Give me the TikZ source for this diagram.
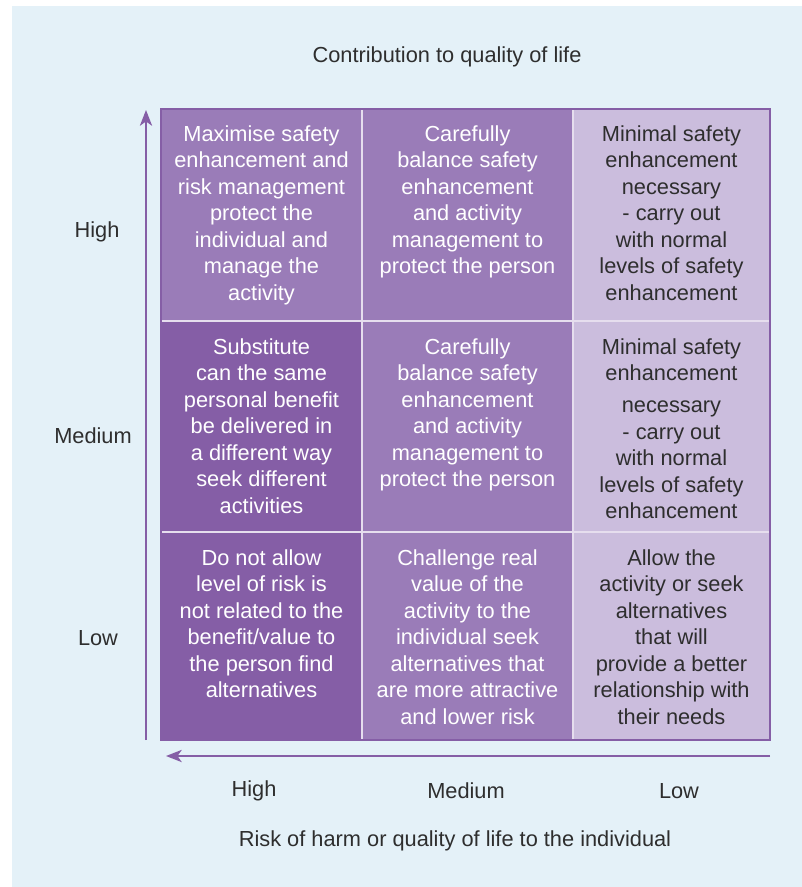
\documentclass[tikz,border=0pt]{standalone}
\usepackage{fontspec}
\setmainfont{Liberation Sans}
\usetikzlibrary{arrows.meta,positioning}
\definecolor{bgblue}{HTML}{E4F1F8}
\definecolor{darkviolet}{HTML}{855EA6}
\definecolor{midviolet}{HTML}{9A7CB8}
\definecolor{paleviolet}{HTML}{CBBDDD}
\definecolor{gridline}{HTML}{E6DEEE}
\definecolor{labelgrey}{HTML}{2E2E2E}

\begin{document}
\begin{tikzpicture}[x=0.02cm,y=-0.02cm,
    celltext/.style={anchor=north, align=center, inner sep=0pt, font=\fontsize{12.4}{15.1}\selectfont},
    onviolet/.style={celltext, text=white},
    onpale/.style={celltext, text=labelgrey},
    axislabel/.style={inner sep=0pt, text=labelgrey, font=\fontsize{12.4}{15.1}\selectfont},
    axis/.style={darkviolet, line width=0.9pt, -{Stealth[length=9pt,width=7pt,inset=2.5pt]}}]
    \useasboundingbox (0,0) rectangle (802,887);
    \fill[bgblue] (12,6) rectangle (802,887);
    % cells
    \fill[darkviolet] (161,321) rectangle (362,740);
    \fill[midviolet] (161,109) rectangle (573,321);
    \fill[midviolet] (362,321) rectangle (573,740);
    \fill[paleviolet] (573,109) rectangle (770,740);
    \foreach \x in {362,573}{
        \draw[gridline, line width=0.9pt] (\x,109) -- (\x,740);
    }
    \foreach \y in {321,532}{
        \draw[gridline, line width=0.9pt] (161,\y) -- (770,\y);
    }
    \draw[darkviolet, line width=0.8pt] (161,109) rectangle (770,740);
    % axes
    \coordinate (vbot) at (146,740);
    \coordinate (vtop) at (146,110);
    \coordinate (hright) at (770,756);
    \coordinate (hleft) at (166,756);
    \draw[axis] (vbot) -- (vtop);
    \draw[axis] (hright) -- (hleft);
    % cell texts, top row
    \node[onviolet] (tl) at (261.5,125) {Maximise safety\\enhancement and\\risk management\\protect the\\individual and\\manage the\\activity};
    \node[onviolet] (tm) at (467.5,125) {Carefully\\balance safety\\enhancement\\and activity\\management to\\protect the person};
    \node[onpale] (tr) at (671.5,125) {Minimal safety\\enhancement\\necessary\\- carry out\\with normal\\levels of safety\\enhancement};
    % middle row
    \node[onviolet] (ml) at (261.5,338) {Substitute\\can the same\\personal benefit\\be delivered in\\a different way\\seek different\\activities};
    \node[onviolet] (mm) at (467.5,338) {Carefully\\balance safety\\enhancement\\and activity\\management to\\protect the person};
    \node[onpale] (mr) at (671.5,338) {Minimal safety\\enhancement\\[3pt]necessary\\- carry out\\with normal\\levels of safety\\enhancement};
    % bottom row
    \node[onviolet] (bl) at (261.5,549) {Do not allow\\level of risk is\\not related to the\\benefit/value to\\the person find\\alternatives};
    \node[onviolet] (bm) at (467.5,549) {Challenge real\\value of the\\activity to the\\individual seek\\alternatives that\\are more attractive\\and lower risk};
    \node[onpale] (br) at (671.5,549) {Allow the\\activity or seek\\alternatives\\that will\\provide a better\\relationship with\\their needs};
    % labels
    \node[axislabel] (quality) at (447,57) {Contribution to quality of life};
    \node[axislabel] (qhigh) at (97,232) {High};
    \node[axislabel] (qmed) at (93,436) {Medium};
    \node[axislabel] (qlow) at (98,638) {Low};
    \node[axislabel] (rhigh) at (254,791) {High};
    \node[axislabel] (rmed) at (466,791) {Medium};
    \node[axislabel] (rlow) at (679,791) {Low};
    \node[axislabel] (risk) at (455,841) {Risk of harm or quality of life to the individual};
\end{tikzpicture}
\end{document}
